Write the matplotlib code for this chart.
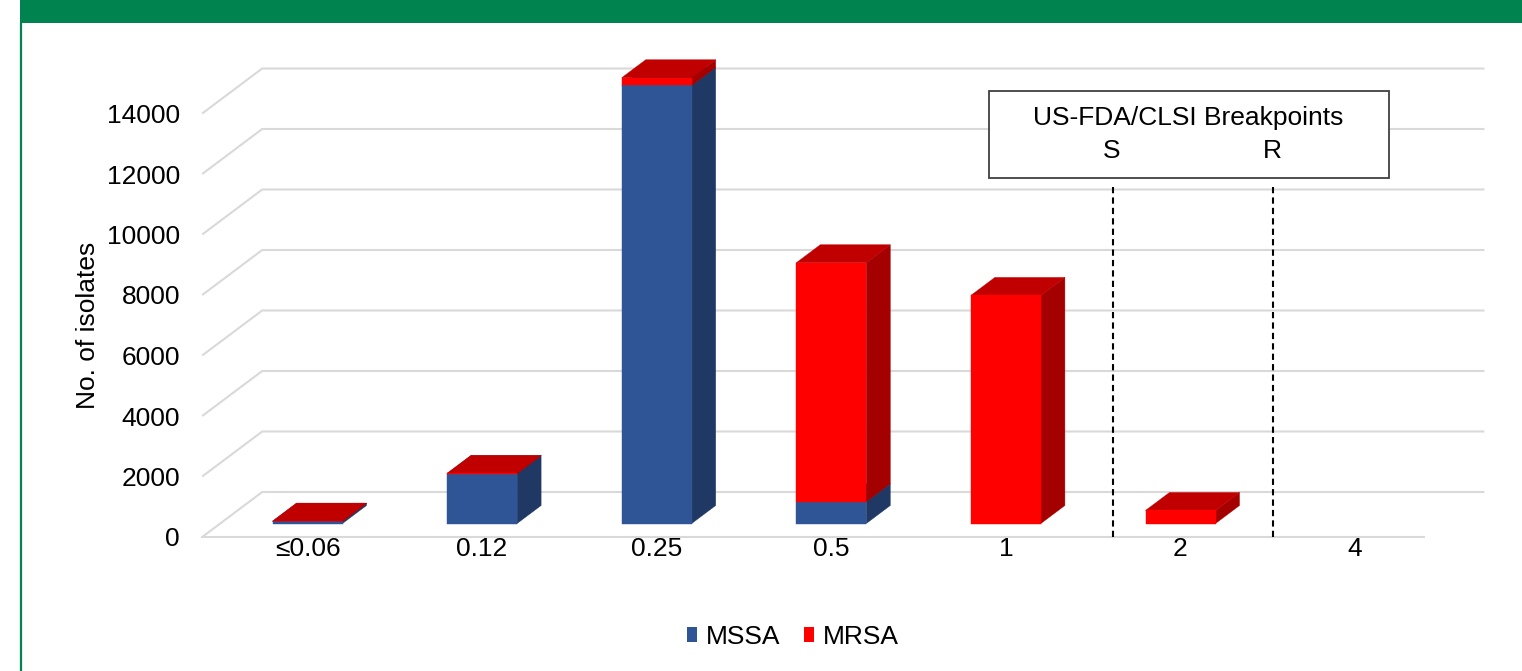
import matplotlib
matplotlib.use("Agg")
import matplotlib.pyplot as plt
from matplotlib.patches import Polygon, Rectangle, Patch
from matplotlib.lines import Line2D

plt.rcParams['font.family'] = ['Liberation Sans', 'DejaVu Sans']

# ---------------- data ----------------
categories = ["≤0.06", "0.12", "0.25", "0.5", "1", "2", "4"]
mssa = [70, 1650, 14480, 720, 0, 0, 0]
mrsa = [10, 10, 255, 7900, 7540, 430, 0]
y_ticks = [0, 2000, 4000, 6000, 8000, 10000, 12000, 14000]
breakpoint_x = [4.717, 5.633]          # S and R breakpoint marker positions (category units)
breakpoint_top = 11700

# ---------------- style ----------------
W, H = 1522, 671
MSSA_C = dict(front="#2F5597", side="#203864", top="#264478")
MRSA_C = dict(front="#FF0000", side="#A50000", top="#C00000")
GRID_C = "#D9D9D9"
GREEN = "#00834F"
FS = 19

PX_CAT = 174.6
PX_VAL = 0.03025
DX = 60 / PX_CAT          # full floor depth in category units
DY = 45 / PX_VAL          # full floor depth in value units
D0, D1 = 0.3, 0.7         # bar depth span
BW = 70 / PX_CAT          # bar width

fig = plt.figure(figsize=(W / 100, H / 100), dpi=100)
left_px = 289.5 - 0.5 * PX_CAT
ax = fig.add_axes([left_px / W, (H - 537) / H, 7 * PX_CAT / W, 16000 * PX_VAL / H])
ax.set_xlim(-0.5, 6.5)
ax.set_ylim(0, 16000)
for s in ax.spines.values():
    s.set_visible(False)
ax.patch.set_visible(False)

# gridlines (3D floor / back wall)
xl, xr = -0.5, 6.5
for v in y_ticks:
    ax.plot([xl, xl + DX, xr + DX], [v, v + DY, v + DY], color=GRID_C, lw=1.5,
            clip_on=False, zorder=1, solid_capstyle='butt')
ax.plot([xl, xr], [0, 0], color=GRID_C, lw=1.5, clip_on=False, zorder=1)


def box(xc, y0, y1, col, z):
    x0, x1 = xc - BW / 2, xc + BW / 2
    a = (D0 * DX, D0 * DY)
    b = (D1 * DX, D1 * DY)
    front = [(x0 + a[0], y0 + a[1]), (x1 + a[0], y0 + a[1]),
             (x1 + a[0], y1 + a[1]), (x0 + a[0], y1 + a[1])]
    side = [(x1 + a[0], y0 + a[1]), (x1 + b[0], y0 + b[1]),
            (x1 + b[0], y1 + b[1]), (x1 + a[0], y1 + a[1])]
    top = [(x0 + a[0], y1 + a[1]), (x1 + a[0], y1 + a[1]),
           (x1 + b[0], y1 + b[1]), (x0 + b[0], y1 + b[1])]
    for pts, c in ((side, col["side"]), (top, col["top"]), (front, col["front"])):
        ax.add_patch(Polygon(pts, closed=True, facecolor=c, edgecolor=c, lw=0.3,
                             clip_on=False, zorder=z))


for i, cat in enumerate(categories):
    if mssa[i] == 0 and mrsa[i] == 0:
        continue
    z = 3 + i * 0.01
    if mssa[i] > 0:
        box(i, 0, mssa[i], MSSA_C, z)
    box(i, mssa[i], mssa[i] + mrsa[i], MRSA_C, z + 0.001)

# breakpoint dashed lines
for bx in breakpoint_x:
    ax.plot([bx, bx], [0, breakpoint_top], color="black", lw=1.5,
            linestyle=(0, (3, 2)), clip_on=False, zorder=5)

# axes ticks
ax.set_yticks(y_ticks)
ax.set_yticklabels([str(v) for v in y_ticks], fontsize=FS)
ax.set_xticks([i + D0 * DX for i in range(len(categories))])
ax.set_xticklabels(categories, fontsize=FS)
ax.tick_params(axis='y', length=0, pad=16)
ax.tick_params(axis='x', length=0, pad=0.3)
ax.set_ylabel("No. of isolates", fontsize=FS)
ax.yaxis.set_label_coords((100 - left_px) / (7 * PX_CAT), (537 - 325) / (16000 * PX_VAL))

# breakpoint box
fig.patches.append(Rectangle((989 / W, 1 - 178 / H), 400 / W, 87 / H, transform=fig.transFigure,
                             facecolor="white", edgecolor="#404040", lw=1.3, zorder=6))
fig.text(1188 / W, 1 - 118 / H, "US-FDA/CLSI Breakpoints", ha="center", va="center",
         fontsize=FS, zorder=7)
fig.text(1112 / W, 1 - 151 / H, "S", ha="center", va="center", fontsize=FS, zorder=7)
fig.text(1272 / W, 1 - 151 / H, "R", ha="center", va="center", fontsize=FS, zorder=7)

# header band and frame line
fig.patches.append(Rectangle((20 / W, 1 - 23 / H), 1 - 20 / W, 23 / H, transform=fig.transFigure,
                             facecolor=GREEN, edgecolor="none", zorder=6))
fig.lines.append(Line2D([21 / W, 21 / W], [0, 1 - 22 / H], transform=fig.transFigure,
                        color=GREEN, lw=1.6, zorder=6))

# legend
handles = [Patch(facecolor=MSSA_C["front"], label="MSSA"),
           Patch(facecolor=MRSA_C["front"], label="MRSA")]
fig.legend(handles=handles, loc="center", bbox_to_anchor=(793 / W, 1 - 637 / H), ncol=2,
           frameon=False, fontsize=FS, handlelength=0.38, handleheight=0.5,
           handletextpad=0.34, columnspacing=0.87, borderpad=0)

fig.savefig("out.png", dpi=100)
